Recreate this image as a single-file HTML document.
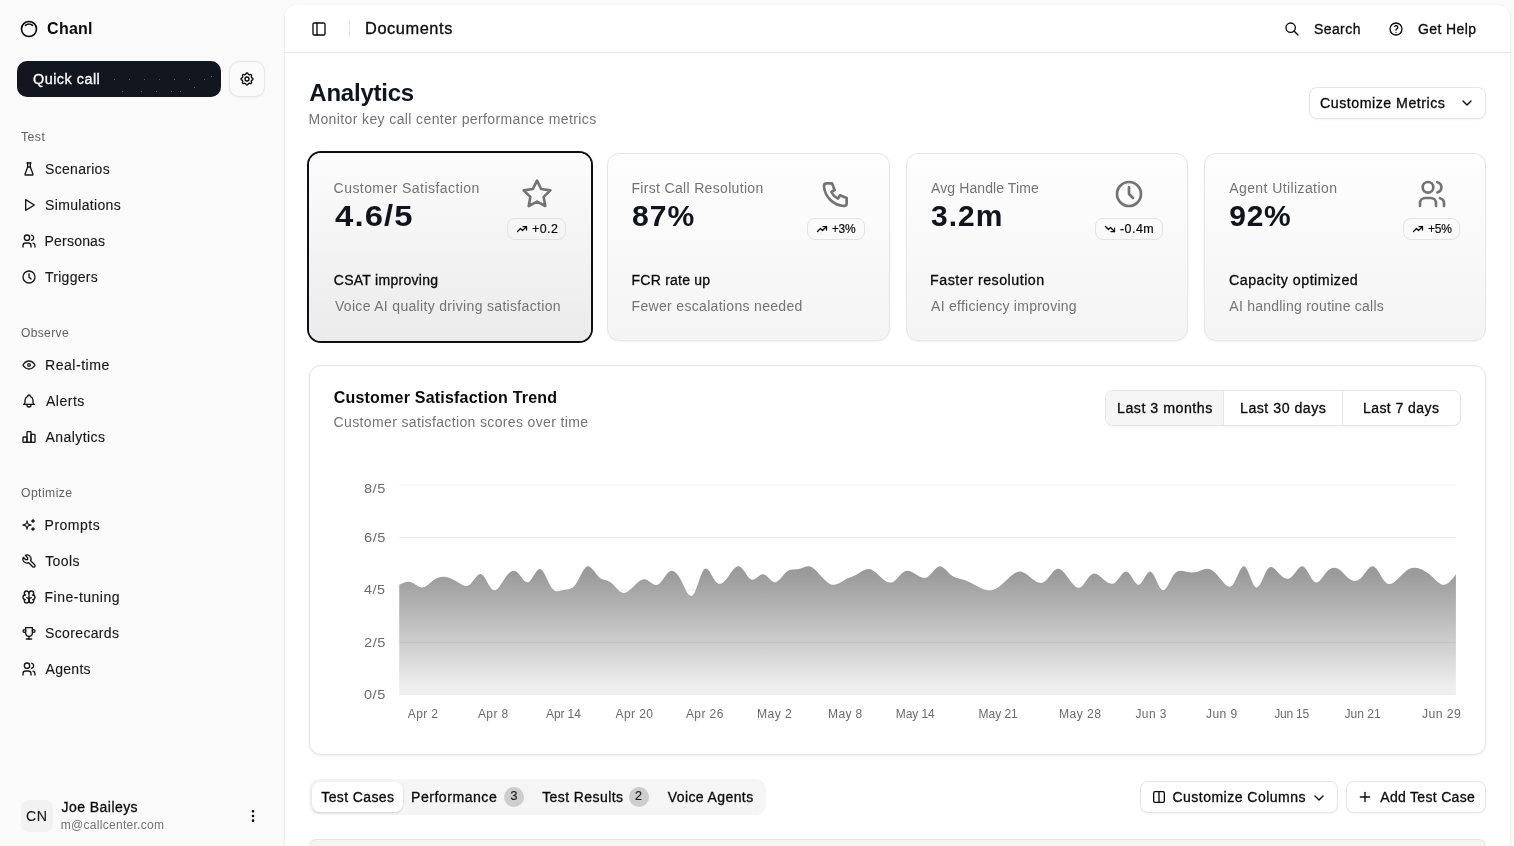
<!DOCTYPE html>
<html><head><meta charset="utf-8"><title>Analytics</title>
<style>
html,body{margin:0;padding:0}
html{width:1514px;height:846px;overflow:hidden;}
body{width:1514px;height:846px;overflow:hidden;background:#fafafa;position:relative;font-family:"Liberation Sans",sans-serif;}
.t{position:absolute;white-space:nowrap;line-height:1;transform-origin:0 0;}
.b{position:absolute;}
.tl{position:absolute;left:0;top:0;width:1514px;height:846px;will-change:transform;}
.i{position:absolute;overflow:visible;}
</style></head><body>
<div class="b" style="left:285px;top:5px;width:1225px;height:841px;background:#fff;border-radius:12px 12px 0 0;box-shadow:0 1px 3px rgba(0,0,0,.10),0 1px 2px -1px rgba(0,0,0,.10);"></div>
<div class="b" style="left:285px;top:52px;width:1225px;height:1px;background:#e8e8e8;"></div>
<div class="b" style="left:349px;top:21px;width:1px;height:16px;background:#e5e5e5;"></div>
<div class="b" style="left:17px;top:61px;width:204px;height:36px;background:#12161f;border-radius:10px;"></div>
<div class="b" style="left:229px;top:61px;width:36px;height:36px;background:#fafafa;border:1px solid #e6e6e6;border-radius:10px;box-sizing:border-box;box-shadow:0 1px 2px rgba(0,0,0,.05);"></div>
<div class="b" style="left:113.9px;top:78.6px;width:1px;height:1px;background:rgba(255,255,255,.32);"></div>
<div class="b" style="left:129px;top:78.6px;width:1px;height:1px;background:rgba(255,255,255,.32);"></div>
<div class="b" style="left:143.9px;top:78.6px;width:1px;height:1px;background:rgba(255,255,255,.32);"></div>
<div class="b" style="left:158.9px;top:78.6px;width:1px;height:1px;background:rgba(255,255,255,.32);"></div>
<div class="b" style="left:173.8px;top:78.6px;width:1px;height:1px;background:rgba(255,255,255,.32);"></div>
<div class="b" style="left:188.8px;top:78.6px;width:1px;height:1px;background:rgba(255,255,255,.32);"></div>
<div class="b" style="left:203.9px;top:78.6px;width:1px;height:1px;background:rgba(255,255,255,.32);"></div>
<div class="b" style="left:211.2px;top:75.9px;width:1px;height:1px;background:rgba(255,255,255,.32);"></div>
<div class="b" style="left:122.1px;top:91.3px;width:1px;height:1px;background:rgba(255,255,255,.32);"></div>
<div class="b" style="left:140.9px;top:91.3px;width:1px;height:1px;background:rgba(255,255,255,.32);"></div>
<div class="b" style="left:156px;top:91.3px;width:1px;height:1px;background:rgba(255,255,255,.32);"></div>
<div class="b" style="left:171px;top:91.3px;width:1px;height:1px;background:rgba(255,255,255,.32);"></div>
<div class="b" style="left:180.2px;top:91.3px;width:1px;height:1px;background:rgba(255,255,255,.32);"></div>
<div class="b" style="left:193.9px;top:86.9px;width:1px;height:1px;background:rgba(255,255,255,.32);"></div>
<div class="b" style="left:21px;top:800px;width:32px;height:32px;background:#f2f2f2;border-radius:8px;"></div>
<div class="b" style="left:1309px;top:87px;width:177px;height:32px;background:#fff;border:1px solid #e5e5e5;border-radius:8px;box-sizing:border-box;box-shadow:0 1px 2px rgba(0,0,0,.05);"></div>
<div class="b" style="left:309px;top:153px;width:282.25px;height:188px;background:linear-gradient(to bottom,#fcfcfc,#ebebeb);border-radius:12px;box-shadow:0 0 0 2px #0c0f16;"></div>
<div class="b" style="left:607.25px;top:153px;width:282.25px;height:188px;background:linear-gradient(to bottom,#fefefe,#f4f4f4);border:1px solid #e5e5e5;border-radius:12px;box-sizing:border-box;box-shadow:0 1px 2px rgba(0,0,0,.05);"></div>
<div class="b" style="left:905.5px;top:153px;width:282.25px;height:188px;background:linear-gradient(to bottom,#fefefe,#f4f4f4);border:1px solid #e5e5e5;border-radius:12px;box-sizing:border-box;box-shadow:0 1px 2px rgba(0,0,0,.05);"></div>
<div class="b" style="left:1203.75px;top:153px;width:282.25px;height:188px;background:linear-gradient(to bottom,#fefefe,#f4f4f4);border:1px solid #e5e5e5;border-radius:12px;box-sizing:border-box;box-shadow:0 1px 2px rgba(0,0,0,.05);"></div>
<div class="b" style="left:507.4px;top:218.4px;width:58.2px;height:21.3px;border:1px solid #e3e3e3;border-radius:8px;box-sizing:border-box;"></div>
<div class="b" style="left:807.3px;top:218.4px;width:57.4px;height:21.3px;border:1px solid #e3e3e3;border-radius:8px;box-sizing:border-box;"></div>
<div class="b" style="left:1095.3px;top:218.4px;width:67.6px;height:21.3px;border:1px solid #e3e3e3;border-radius:8px;box-sizing:border-box;"></div>
<div class="b" style="left:1403.1px;top:218.4px;width:57.3px;height:21.3px;border:1px solid #e3e3e3;border-radius:8px;box-sizing:border-box;"></div>
<div class="b" style="left:309px;top:365px;width:1177px;height:390px;background:#fff;border:1px solid #e5e5e5;border-radius:12px;box-sizing:border-box;box-shadow:0 1px 3px rgba(0,0,0,.07);"></div>
<div class="b" style="left:1105px;top:390px;width:356px;height:36px;background:#fff;border:1px solid #e5e5e5;border-radius:8px;box-sizing:border-box;box-shadow:0 1px 2px rgba(0,0,0,.04);overflow:hidden;"></div>
<div class="b" style="left:1106px;top:391px;width:117px;height:34px;background:#f5f5f5;border-radius:7px 0 0 7px;"></div>
<div class="b" style="left:1223px;top:391px;width:1px;height:34px;background:#e5e5e5;"></div>
<div class="b" style="left:1342px;top:391px;width:1px;height:34px;background:#e5e5e5;"></div>
<div class="b" style="left:309px;top:779px;width:457px;height:36px;background:#f5f5f5;border-radius:10px;"></div>
<div class="b" style="left:312px;top:782px;width:91px;height:30px;background:#fff;border-radius:8px;box-shadow:0 1px 3px rgba(0,0,0,.10),0 1px 2px rgba(0,0,0,.06);"></div>
<div class="b" style="left:504.3px;top:786.8px;width:20px;height:20px;background:#cdcdcd;border-radius:10px;"></div>
<div class="b" style="left:628.9px;top:786.8px;width:20px;height:20px;background:#cdcdcd;border-radius:10px;"></div>
<div class="b" style="left:1140px;top:781px;width:198px;height:32px;background:#fff;border:1px solid #e5e5e5;border-radius:8px;box-sizing:border-box;box-shadow:0 1px 2px rgba(0,0,0,.05);"></div>
<div class="b" style="left:1346px;top:781px;width:140px;height:32px;background:#fff;border:1px solid #e5e5e5;border-radius:8px;box-sizing:border-box;box-shadow:0 1px 2px rgba(0,0,0,.05);"></div>
<div class="b" style="left:309px;top:839px;width:1177px;height:7px;background:#f5f5f5;border:1px solid #e5e5e5;border-bottom:none;border-radius:8px 8px 0 0;box-sizing:border-box;"></div>
<svg class="i" style="left:0;top:0" width="1514" height="846" viewBox="0 0 1514 846">
<defs><linearGradient id="g" gradientUnits="userSpaceOnUse" x1="0" y1="566.42" x2="0" y2="694.90">
<stop offset="0.05" stop-color="#171717" stop-opacity="0.435"/><stop offset="0.95" stop-color="#171717" stop-opacity="0.07"/></linearGradient></defs>
<g stroke="#ececec" stroke-width="1" fill="none">
<path d="M399.2 485.2H1455.9" stroke="#f3f3f3"/><path d="M399.2 537.6H1455.9"/><path d="M399.2 590.1H1455.9"/></g>
<path d="M399.20,584.78C403.11,582.86,407.03,580.95,410.94,582.15C414.85,583.36,418.77,587.67,422.68,587.40C426.60,587.12,430.51,582.26,434.42,579.53C438.34,576.80,442.25,576.21,446.16,576.91C450.08,577.61,453.99,579.62,457.91,582.15C461.82,584.69,465.73,587.76,469.65,584.78C473.56,581.79,477.47,572.74,481.39,574.29C485.30,575.83,489.22,587.97,493.13,590.02C497.04,592.07,500.96,584.02,504.87,578.22C508.78,572.42,512.70,568.86,516.61,571.67C520.52,574.47,524.44,583.63,528.35,582.15C532.27,580.68,536.18,568.56,540.09,569.04C544.01,569.53,547.92,582.60,551.83,587.92C555.75,593.24,559.66,590.81,563.58,590.02C567.49,589.23,571.40,590.09,575.32,584.78C579.23,579.46,583.14,567.97,587.06,566.42C590.97,564.87,594.89,573.27,598.80,576.91C602.71,580.55,606.63,579.45,610.54,582.15C614.45,584.86,618.37,591.37,622.28,592.64C626.19,593.91,630.11,589.94,634.02,586.09C637.94,582.23,641.85,578.50,645.76,579.53C649.68,580.56,653.59,586.35,657.50,584.78C661.42,583.20,665.33,574.27,669.25,571.67C673.16,569.07,677.07,572.80,680.99,580.32C684.90,587.83,688.81,599.12,692.73,595.26C696.64,591.40,700.56,572.39,704.47,569.04C708.38,565.69,712.30,578.01,716.21,582.15C720.12,586.30,724.04,582.29,727.95,576.91C731.86,571.53,735.78,564.80,739.69,566.42C743.61,568.05,747.52,578.04,751.43,579.53C755.35,581.02,759.26,574.02,763.17,574.29C767.09,574.56,771.00,582.11,774.92,582.15C778.83,582.20,782.74,574.75,786.66,571.67C790.57,568.58,794.48,569.86,798.40,569.04C802.31,568.23,806.23,565.32,810.14,566.42C814.05,567.52,817.97,572.62,821.88,576.91C825.79,581.20,829.71,584.67,833.62,584.78C837.53,584.89,841.45,581.64,845.36,579.53C849.28,577.42,853.19,576.46,857.10,574.29C861.02,572.12,864.93,568.75,868.84,569.04C872.76,569.34,876.67,573.29,880.59,576.91C884.50,580.53,888.41,583.83,892.33,582.15C896.24,580.48,900.15,573.83,904.07,571.67C907.98,569.50,911.90,571.83,915.81,574.29C919.72,576.74,923.64,579.33,927.55,576.91C931.46,574.49,935.38,567.07,939.29,566.42C943.20,565.78,947.12,571.91,951.03,575.07C954.95,578.24,958.86,578.44,962.77,579.53C966.69,580.63,970.60,582.62,974.51,584.78C978.43,586.93,982.34,589.25,986.26,590.02C990.17,590.79,994.08,590.00,998.00,587.40C1001.91,584.80,1005.82,580.39,1009.74,576.91C1013.65,573.43,1017.57,570.89,1021.48,571.67C1025.39,572.44,1029.31,576.54,1033.22,579.53C1037.13,582.52,1041.05,584.39,1044.96,581.37C1048.87,578.34,1052.79,570.42,1056.70,569.04C1060.62,567.67,1064.53,572.86,1068.44,578.22C1072.36,583.58,1076.27,589.13,1080.18,587.40C1084.10,585.67,1088.01,576.66,1091.93,574.29C1095.84,571.91,1099.75,576.17,1103.67,579.53C1107.58,582.90,1111.49,585.37,1115.41,582.15C1119.32,578.94,1123.24,570.04,1127.15,571.67C1131.06,573.29,1134.98,585.45,1138.89,584.78C1142.80,584.11,1146.72,570.61,1150.63,571.67C1154.54,572.72,1158.46,588.31,1162.37,590.02C1166.29,591.73,1170.20,579.54,1174.11,574.29C1178.03,569.04,1181.94,570.72,1185.85,571.67C1189.77,572.61,1193.68,572.81,1197.60,571.67C1201.51,570.52,1205.42,568.01,1209.34,569.04C1213.25,570.07,1217.16,574.63,1221.08,579.53C1224.99,584.43,1228.91,589.67,1232.82,584.78C1236.73,579.89,1240.65,564.87,1244.56,566.42C1248.47,567.98,1252.39,586.11,1256.30,587.40C1260.21,588.69,1264.13,573.15,1268.04,568.52C1271.96,563.89,1275.87,570.18,1279.78,574.29C1283.70,578.39,1287.61,580.32,1291.52,576.91C1295.44,573.50,1299.35,564.76,1303.27,566.42C1307.18,568.09,1311.09,580.16,1315.01,582.15C1318.92,584.15,1322.83,576.06,1326.75,571.67C1330.66,567.27,1334.58,566.58,1338.49,569.04C1342.40,571.51,1346.32,577.12,1350.23,579.53C1354.14,581.94,1358.06,581.14,1361.97,576.91C1365.88,572.68,1369.80,565.02,1373.71,566.42C1377.63,567.83,1381.54,578.30,1385.45,582.15C1389.37,586.01,1393.28,583.25,1397.19,579.53C1401.11,575.81,1405.02,571.13,1408.94,569.04C1412.85,566.96,1416.76,567.46,1420.68,569.04C1424.59,570.63,1428.50,573.30,1432.42,576.91C1436.33,580.52,1440.25,585.06,1444.16,584.78C1448.07,584.49,1451.99,579.39,1455.90,574.29L1455.90,694.90 L399.20,694.90 Z" fill="#fff"/>
<path d="M399.20,584.78C403.11,582.86,407.03,580.95,410.94,582.15C414.85,583.36,418.77,587.67,422.68,587.40C426.60,587.12,430.51,582.26,434.42,579.53C438.34,576.80,442.25,576.21,446.16,576.91C450.08,577.61,453.99,579.62,457.91,582.15C461.82,584.69,465.73,587.76,469.65,584.78C473.56,581.79,477.47,572.74,481.39,574.29C485.30,575.83,489.22,587.97,493.13,590.02C497.04,592.07,500.96,584.02,504.87,578.22C508.78,572.42,512.70,568.86,516.61,571.67C520.52,574.47,524.44,583.63,528.35,582.15C532.27,580.68,536.18,568.56,540.09,569.04C544.01,569.53,547.92,582.60,551.83,587.92C555.75,593.24,559.66,590.81,563.58,590.02C567.49,589.23,571.40,590.09,575.32,584.78C579.23,579.46,583.14,567.97,587.06,566.42C590.97,564.87,594.89,573.27,598.80,576.91C602.71,580.55,606.63,579.45,610.54,582.15C614.45,584.86,618.37,591.37,622.28,592.64C626.19,593.91,630.11,589.94,634.02,586.09C637.94,582.23,641.85,578.50,645.76,579.53C649.68,580.56,653.59,586.35,657.50,584.78C661.42,583.20,665.33,574.27,669.25,571.67C673.16,569.07,677.07,572.80,680.99,580.32C684.90,587.83,688.81,599.12,692.73,595.26C696.64,591.40,700.56,572.39,704.47,569.04C708.38,565.69,712.30,578.01,716.21,582.15C720.12,586.30,724.04,582.29,727.95,576.91C731.86,571.53,735.78,564.80,739.69,566.42C743.61,568.05,747.52,578.04,751.43,579.53C755.35,581.02,759.26,574.02,763.17,574.29C767.09,574.56,771.00,582.11,774.92,582.15C778.83,582.20,782.74,574.75,786.66,571.67C790.57,568.58,794.48,569.86,798.40,569.04C802.31,568.23,806.23,565.32,810.14,566.42C814.05,567.52,817.97,572.62,821.88,576.91C825.79,581.20,829.71,584.67,833.62,584.78C837.53,584.89,841.45,581.64,845.36,579.53C849.28,577.42,853.19,576.46,857.10,574.29C861.02,572.12,864.93,568.75,868.84,569.04C872.76,569.34,876.67,573.29,880.59,576.91C884.50,580.53,888.41,583.83,892.33,582.15C896.24,580.48,900.15,573.83,904.07,571.67C907.98,569.50,911.90,571.83,915.81,574.29C919.72,576.74,923.64,579.33,927.55,576.91C931.46,574.49,935.38,567.07,939.29,566.42C943.20,565.78,947.12,571.91,951.03,575.07C954.95,578.24,958.86,578.44,962.77,579.53C966.69,580.63,970.60,582.62,974.51,584.78C978.43,586.93,982.34,589.25,986.26,590.02C990.17,590.79,994.08,590.00,998.00,587.40C1001.91,584.80,1005.82,580.39,1009.74,576.91C1013.65,573.43,1017.57,570.89,1021.48,571.67C1025.39,572.44,1029.31,576.54,1033.22,579.53C1037.13,582.52,1041.05,584.39,1044.96,581.37C1048.87,578.34,1052.79,570.42,1056.70,569.04C1060.62,567.67,1064.53,572.86,1068.44,578.22C1072.36,583.58,1076.27,589.13,1080.18,587.40C1084.10,585.67,1088.01,576.66,1091.93,574.29C1095.84,571.91,1099.75,576.17,1103.67,579.53C1107.58,582.90,1111.49,585.37,1115.41,582.15C1119.32,578.94,1123.24,570.04,1127.15,571.67C1131.06,573.29,1134.98,585.45,1138.89,584.78C1142.80,584.11,1146.72,570.61,1150.63,571.67C1154.54,572.72,1158.46,588.31,1162.37,590.02C1166.29,591.73,1170.20,579.54,1174.11,574.29C1178.03,569.04,1181.94,570.72,1185.85,571.67C1189.77,572.61,1193.68,572.81,1197.60,571.67C1201.51,570.52,1205.42,568.01,1209.34,569.04C1213.25,570.07,1217.16,574.63,1221.08,579.53C1224.99,584.43,1228.91,589.67,1232.82,584.78C1236.73,579.89,1240.65,564.87,1244.56,566.42C1248.47,567.98,1252.39,586.11,1256.30,587.40C1260.21,588.69,1264.13,573.15,1268.04,568.52C1271.96,563.89,1275.87,570.18,1279.78,574.29C1283.70,578.39,1287.61,580.32,1291.52,576.91C1295.44,573.50,1299.35,564.76,1303.27,566.42C1307.18,568.09,1311.09,580.16,1315.01,582.15C1318.92,584.15,1322.83,576.06,1326.75,571.67C1330.66,567.27,1334.58,566.58,1338.49,569.04C1342.40,571.51,1346.32,577.12,1350.23,579.53C1354.14,581.94,1358.06,581.14,1361.97,576.91C1365.88,572.68,1369.80,565.02,1373.71,566.42C1377.63,567.83,1381.54,578.30,1385.45,582.15C1389.37,586.01,1393.28,583.25,1397.19,579.53C1401.11,575.81,1405.02,571.13,1408.94,569.04C1412.85,566.96,1416.76,567.46,1420.68,569.04C1424.59,570.63,1428.50,573.30,1432.42,576.91C1436.33,580.52,1440.25,585.06,1444.16,584.78C1448.07,584.49,1451.99,579.39,1455.90,574.29L1455.90,694.90 L399.20,694.90 Z" fill="url(#g)"/>
<path d="M399.2 642.5H1455.9" stroke="#000" stroke-opacity="0.04" stroke-width="1" fill="none"/>
</svg>
<svg class="i" style="left:19.00px;top:18.80px" width="20" height="20" viewBox="0 0 24 24" fill="none" stroke="#0a0a0a" stroke-width="2" stroke-linecap="round" stroke-linejoin="round"><path d="M5.636 5.636a9 9 0 1 0 12.728 12.728a9 9 0 0 0 -12.728 -12.728z"/><path d="M16.243 7.757a6 6 0 0 0 -8.486 0"/></svg>
<svg class="i" style="left:239.00px;top:71.00px" width="16" height="16" viewBox="0 0 24 24" fill="none" stroke="#0a0a0a" stroke-width="2" stroke-linecap="round" stroke-linejoin="round"><path d="M10.325 4.317c.426 -1.756 2.924 -1.756 3.35 0a1.724 1.724 0 0 0 2.573 1.066c1.543 -.94 3.31 .826 2.37 2.37a1.724 1.724 0 0 0 1.065 2.572c1.756 .426 1.756 2.924 0 3.35a1.724 1.724 0 0 0 -1.066 2.573c.94 1.543 -.826 3.31 -2.37 2.37a1.724 1.724 0 0 0 -2.572 1.065c-.426 1.756 -2.924 1.756 -3.35 0a1.724 1.724 0 0 0 -2.573 -1.066c-1.543 .94 -3.31 -.826 -2.37 -2.37a1.724 1.724 0 0 0 -1.065 -2.572c-1.756 -.426 -1.756 -2.924 0 -3.35a1.724 1.724 0 0 0 1.066 -2.573c-.94 -1.543 .826 -3.31 2.37 -2.37c1 .608 2.296 .07 2.572 -1.065z"/><path d="M9 12a3 3 0 1 0 6 0a3 3 0 0 0 -6 0"/></svg>
<svg class="i" style="left:21.00px;top:161.00px" width="16" height="16" viewBox="0 0 24 24" fill="none" stroke="#161616" stroke-width="2" stroke-linecap="round" stroke-linejoin="round"><path d="M9 3l6 0"/><path d="M10 9l4 0"/><path d="M10 3v6l-4 11a.7 .7 0 0 0 .5 1h11a.7 .7 0 0 0 .5 -1l-4 -11v-6"/></svg>
<svg class="i" style="left:21.00px;top:197.00px" width="16" height="16" viewBox="0 0 24 24" fill="none" stroke="#161616" stroke-width="2" stroke-linecap="round" stroke-linejoin="round"><path d="M7 4v16l13 -8z"/></svg>
<svg class="i" style="left:21.00px;top:233.00px" width="16" height="16" viewBox="0 0 24 24" fill="none" stroke="#161616" stroke-width="2" stroke-linecap="round" stroke-linejoin="round"><path d="M9 7m-4 0a4 4 0 1 0 8 0a4 4 0 1 0 -8 0"/><path d="M3 21v-2a4 4 0 0 1 4 -4h4a4 4 0 0 1 4 4v2"/><path d="M16 3.13a4 4 0 0 1 0 7.75"/><path d="M21 21v-2a4 4 0 0 0 -3 -3.85"/></svg>
<svg class="i" style="left:21.00px;top:269.00px" width="16" height="16" viewBox="0 0 24 24" fill="none" stroke="#161616" stroke-width="2" stroke-linecap="round" stroke-linejoin="round"><path d="M3 12a9 9 0 1 0 18 0a9 9 0 0 0 -18 0"/><path d="M12 7v5l3 3"/></svg>
<svg class="i" style="left:21.00px;top:357.00px" width="16" height="16" viewBox="0 0 24 24" fill="none" stroke="#161616" stroke-width="2" stroke-linecap="round" stroke-linejoin="round"><path d="M10 12a2 2 0 1 0 4 0a2 2 0 0 0 -4 0"/><path d="M21 12c-2.4 4 -5.4 6 -9 6c-3.6 0 -6.6 -2 -9 -6c2.4 -4 5.4 -6 9 -6c3.6 0 6.6 2 9 6"/></svg>
<svg class="i" style="left:21.00px;top:393.00px" width="16" height="16" viewBox="0 0 24 24" fill="none" stroke="#161616" stroke-width="2" stroke-linecap="round" stroke-linejoin="round"><path d="M10 5a2 2 0 1 1 4 0a7 7 0 0 1 4 6v3a4 4 0 0 0 2 3h-16a4 4 0 0 0 2 -3v-3a7 7 0 0 1 4 -6"/><path d="M9 17v1a3 3 0 0 0 6 0v-1"/></svg>
<svg class="i" style="left:21.00px;top:429.00px" width="16" height="16" viewBox="0 0 24 24" fill="none" stroke="#161616" stroke-width="2" stroke-linecap="round" stroke-linejoin="round"><path d="M3 13a1 1 0 0 1 1 -1h4a1 1 0 0 1 1 1v6a1 1 0 0 1 -1 1h-4a1 1 0 0 1 -1 -1z"/><path d="M15 9a1 1 0 0 1 1 -1h4a1 1 0 0 1 1 1v10a1 1 0 0 1 -1 1h-4a1 1 0 0 1 -1 -1z"/><path d="M9 5a1 1 0 0 1 1 -1h4a1 1 0 0 1 1 1v14a1 1 0 0 1 -1 1h-4a1 1 0 0 1 -1 -1z"/><path d="M4 20h14"/></svg>
<svg class="i" style="left:21.00px;top:517.00px" width="16" height="16" viewBox="0 0 24 24" fill="none" stroke="#161616" stroke-width="2" stroke-linecap="round" stroke-linejoin="round"><path d="M16 18a2 2 0 0 1 2 2a2 2 0 0 1 2 -2a2 2 0 0 1 -2 -2a2 2 0 0 1 -2 2zm0 -12a2 2 0 0 1 2 2a2 2 0 0 1 2 -2a2 2 0 0 1 -2 -2a2 2 0 0 1 -2 2zm-7 12a6 6 0 0 1 6 -6a6 6 0 0 1 -6 -6a6 6 0 0 1 -6 6a6 6 0 0 1 6 6z"/></svg>
<svg class="i" style="left:21.00px;top:553.00px" width="16" height="16" viewBox="0 0 24 24" fill="none" stroke="#161616" stroke-width="2" stroke-linecap="round" stroke-linejoin="round"><path d="M7 10h3v-3l-3.5 -3.5a6 6 0 0 1 8 8l6 6a2 2 0 0 1 -3 3l-6 -6a6 6 0 0 1 -8 -8l3.5 3.5"/></svg>
<svg class="i" style="left:21.00px;top:589.00px" width="16" height="16" viewBox="0 0 24 24" fill="none" stroke="#161616" stroke-width="2" stroke-linecap="round" stroke-linejoin="round"><path d="M15.5 13a3.5 3.5 0 0 0 -3.5 3.5v1a3.5 3.5 0 0 0 7 0v-1.8"/><path d="M8.5 13a3.5 3.5 0 0 1 3.5 3.5v1a3.5 3.5 0 0 1 -7 0v-1.8"/><path d="M17.5 16a3.5 3.5 0 0 0 0 -7h-.5"/><path d="M19 9.3v-2.800a3.5 3.5 0 0 0 -7 0"/><path d="M6.5 16a3.5 3.5 0 0 1 0 -7h.5"/><path d="M5 9.3v-2.800a3.5 3.5 0 0 1 7 0v10"/></svg>
<svg class="i" style="left:21.00px;top:625.00px" width="16" height="16" viewBox="0 0 24 24" fill="none" stroke="#161616" stroke-width="2" stroke-linecap="round" stroke-linejoin="round"><path d="M8 21l8 0"/><path d="M12 17l0 4"/><path d="M7 4l10 0"/><path d="M17 4v8a5 5 0 0 1 -10 0v-8"/><path d="M5 9m-2 0a2 2 0 1 0 4 0a2 2 0 1 0 -4 0"/><path d="M19 9m-2 0a2 2 0 1 0 4 0a2 2 0 1 0 -4 0"/></svg>
<svg class="i" style="left:21.00px;top:661.00px" width="16" height="16" viewBox="0 0 24 24" fill="none" stroke="#161616" stroke-width="2" stroke-linecap="round" stroke-linejoin="round"><path d="M9 7m-4 0a4 4 0 1 0 8 0a4 4 0 1 0 -8 0"/><path d="M3 21v-2a4 4 0 0 1 4 -4h4a4 4 0 0 1 4 4v2"/><path d="M16 3.13a4 4 0 0 1 0 7.75"/><path d="M21 21v-2a4 4 0 0 0 -3 -3.85"/></svg>
<svg class="i" style="left:245.00px;top:808.00px" width="16" height="16" viewBox="0 0 24 24" fill="none" stroke="#0a0a0a" stroke-width="2" stroke-linecap="round" stroke-linejoin="round"><path d="M12 12m-1 0a1 1 0 1 0 2 0a1 1 0 1 0 -2 0"/><path d="M12 19m-1 0a1 1 0 1 0 2 0a1 1 0 1 0 -2 0"/><path d="M12 5m-1 0a1 1 0 1 0 2 0a1 1 0 1 0 -2 0"/></svg>
<svg class="i" style="left:311.00px;top:21.00px" width="16" height="16" viewBox="0 0 24 24" fill="none" stroke="#0a0a0a" stroke-width="2" stroke-linecap="round" stroke-linejoin="round"><rect width="18" height="18" x="3" y="3" rx="2"/><path d="M9 3v18"/></svg>
<svg class="i" style="left:1284.00px;top:20.80px" width="16" height="16" viewBox="0 0 24 24" fill="none" stroke="#0a0a0a" stroke-width="2" stroke-linecap="round" stroke-linejoin="round"><path d="M10 10m-7 0a7 7 0 1 0 14 0a7 7 0 1 0 -14 0"/><path d="M21 21l-6 -6"/></svg>
<svg class="i" style="left:1388.00px;top:21.00px" width="16" height="16" viewBox="0 0 24 24" fill="none" stroke="#0a0a0a" stroke-width="2" stroke-linecap="round" stroke-linejoin="round"><path d="M12 12m-9 0a9 9 0 1 0 18 0a9 9 0 1 0 -18 0"/><path d="M12 17l0 .01"/><path d="M12 13.5a1.5 1.5 0 0 1 1 -1.5a2.6 2.6 0 1 0 -3 -4"/></svg>
<svg class="i" style="left:1459.00px;top:95.00px" width="16" height="16" viewBox="0 0 24 24" fill="none" stroke="#0a0a0a" stroke-width="2" stroke-linecap="round" stroke-linejoin="round"><path d="M6 9l6 6l6 -6"/></svg>
<svg class="i" style="left:521.00px;top:178.00px" width="32" height="32" viewBox="0 0 24 24" fill="none" stroke="#737373" stroke-width="2" stroke-linecap="round" stroke-linejoin="round"><polygon points="12 2 15.09 8.26 22 9.27 17 14.14 18.18 21.02 12 17.77 5.82 21.02 7 14.14 2 9.27 8.91 8.26 12 2"/></svg>
<svg class="i" style="left:819.60px;top:178.40px" width="32" height="32" viewBox="0 0 24 24" fill="none" stroke="#737373" stroke-width="2" stroke-linecap="round" stroke-linejoin="round"><path d="M5 4h4l2 5l-2.5 1.5a11 11 0 0 0 5 5l1.5 -2.5l5 2v4a2 2 0 0 1 -2 2a16 16 0 0 1 -15 -15a2 2 0 0 1 2 -2"/></svg>
<svg class="i" style="left:1112.80px;top:178.00px" width="32" height="32" viewBox="0 0 24 24" fill="none" stroke="#737373" stroke-width="2" stroke-linecap="round" stroke-linejoin="round"><path d="M3 12a9 9 0 1 0 18 0a9 9 0 0 0 -18 0"/><path d="M12 7v5l3 3"/></svg>
<svg class="i" style="left:1416.00px;top:178.00px" width="32" height="32" viewBox="0 0 24 24" fill="none" stroke="#737373" stroke-width="2" stroke-linecap="round" stroke-linejoin="round"><path d="M9 7m-4 0a4 4 0 1 0 8 0a4 4 0 1 0 -8 0"/><path d="M3 21v-2a4 4 0 0 1 4 -4h4a4 4 0 0 1 4 4v2"/><path d="M16 3.13a4 4 0 0 1 0 7.75"/><path d="M21 21v-2a4 4 0 0 0 -3 -3.85"/></svg>
<svg class="i" style="left:516.30px;top:223.30px" width="12" height="12" viewBox="0 0 24 24" fill="none" stroke="#0a0a0a" stroke-width="2.5" stroke-linecap="round" stroke-linejoin="round"><path d="M3 17l6 -6l4 4l8 -8"/><path d="M14 7l7 0l0 7"/></svg>
<svg class="i" style="left:816.00px;top:223.30px" width="12" height="12" viewBox="0 0 24 24" fill="none" stroke="#0a0a0a" stroke-width="2.5" stroke-linecap="round" stroke-linejoin="round"><path d="M3 17l6 -6l4 4l8 -8"/><path d="M14 7l7 0l0 7"/></svg>
<svg class="i" style="left:1103.80px;top:223.30px" width="12" height="12" viewBox="0 0 24 24" fill="none" stroke="#0a0a0a" stroke-width="2.5" stroke-linecap="round" stroke-linejoin="round"><path d="M3 7l6 6l4 -4l8 8"/><path d="M21 10l0 7l-7 0"/></svg>
<svg class="i" style="left:1412.00px;top:223.30px" width="12" height="12" viewBox="0 0 24 24" fill="none" stroke="#0a0a0a" stroke-width="2.5" stroke-linecap="round" stroke-linejoin="round"><path d="M3 17l6 -6l4 4l8 -8"/><path d="M14 7l7 0l0 7"/></svg>
<svg class="i" style="left:1151.00px;top:789.20px" width="16" height="16" viewBox="0 0 24 24" fill="none" stroke="#0a0a0a" stroke-width="2" stroke-linecap="round" stroke-linejoin="round"><path d="M4 4m0 2a2 2 0 0 1 2 -2h12a2 2 0 0 1 2 2v12a2 2 0 0 1 -2 2h-12a2 2 0 0 1 -2 -2z"/><path d="M12 4l0 16"/></svg>
<svg class="i" style="left:1311.20px;top:789.50px" width="16" height="16" viewBox="0 0 24 24" fill="none" stroke="#0a0a0a" stroke-width="2" stroke-linecap="round" stroke-linejoin="round"><path d="M6 9l6 6l6 -6"/></svg>
<svg class="i" style="left:1357.00px;top:789.20px" width="16" height="16" viewBox="0 0 24 24" fill="none" stroke="#0a0a0a" stroke-width="2" stroke-linecap="round" stroke-linejoin="round"><path d="M12 5l0 14"/><path d="M5 12l14 0"/></svg>
<div class="tl">
<span class="t" style="left:47.08px;top:20.76px;font-size:16px;color:#0a0a0a;letter-spacing:0.253px;font-weight:700;">Chanl</span>
<span class="t" style="left:32.76px;top:71.75px;font-size:14px;color:#ffffff;letter-spacing:0.490px;transform:scaleX(1.0260);-webkit-text-stroke:0.30px #ffffff;">Quick call</span>
<span class="t" style="left:21.24px;top:130.84px;font-size:12px;color:#5f5f5f;letter-spacing:0.420px;transform:scaleX(1.0247);">Test</span>
<span class="t" style="left:45.08px;top:162.25px;font-size:14px;color:#161616;letter-spacing:0.296px;-webkit-text-stroke:0.12px #161616;">Scenarios</span>
<span class="t" style="left:45.08px;top:198.15px;font-size:14px;color:#161616;letter-spacing:0.326px;-webkit-text-stroke:0.12px #161616;">Simulations</span>
<span class="t" style="left:44.58px;top:233.95px;font-size:14px;color:#161616;letter-spacing:0.197px;-webkit-text-stroke:0.12px #161616;">Personas</span>
<span class="t" style="left:44.99px;top:269.95px;font-size:14px;color:#161616;letter-spacing:0.270px;-webkit-text-stroke:0.12px #161616;">Triggers</span>
<span class="t" style="left:20.94px;top:326.84px;font-size:12px;color:#5f5f5f;letter-spacing:0.383px;">Observe</span>
<span class="t" style="left:44.57px;top:357.95px;font-size:14px;color:#161616;letter-spacing:0.490px;transform:scaleX(1.0081);-webkit-text-stroke:0.12px #161616;">Real-time</span>
<span class="t" style="left:45.50px;top:393.95px;font-size:14px;color:#161616;letter-spacing:0.490px;transform:scaleX(1.0043);-webkit-text-stroke:0.12px #161616;">Alerts</span>
<span class="t" style="left:45.50px;top:429.85px;font-size:14px;color:#161616;letter-spacing:0.422px;-webkit-text-stroke:0.12px #161616;">Analytics</span>
<span class="t" style="left:20.93px;top:486.84px;font-size:12px;color:#5f5f5f;letter-spacing:0.420px;transform:scaleX(1.0155);">Optimize</span>
<span class="t" style="left:44.57px;top:517.95px;font-size:14px;color:#161616;letter-spacing:0.490px;-webkit-text-stroke:0.12px #161616;">Prompts</span>
<span class="t" style="left:45.19px;top:553.95px;font-size:14px;color:#161616;letter-spacing:0.407px;-webkit-text-stroke:0.12px #161616;">Tools</span>
<span class="t" style="left:44.58px;top:589.85px;font-size:14px;color:#161616;letter-spacing:0.483px;-webkit-text-stroke:0.12px #161616;">Fine-tuning</span>
<span class="t" style="left:45.08px;top:626.15px;font-size:14px;color:#161616;letter-spacing:0.346px;-webkit-text-stroke:0.12px #161616;">Scorecards</span>
<span class="t" style="left:45.50px;top:661.95px;font-size:14px;color:#161616;letter-spacing:0.303px;-webkit-text-stroke:0.12px #161616;">Agents</span>
<span class="t" style="left:26.40px;top:808.85px;font-size:14px;color:#161616;letter-spacing:0.490px;transform:scaleX(1.0152);-webkit-text-stroke:0.12px #161616;">CN</span>
<span class="t" style="left:61.61px;top:800.15px;font-size:14px;color:#0a0a0a;letter-spacing:0.439px;-webkit-text-stroke:0.30px #0a0a0a;">Joe Baileys</span>
<span class="t" style="left:60.85px;top:819.24px;font-size:12px;color:#737373;letter-spacing:0.281px;">m@callcenter.com</span>
<span class="t" style="left:365.26px;top:20.86px;font-size:16px;color:#0a0a0a;letter-spacing:0.560px;transform:scaleX(1.0224);-webkit-text-stroke:0.30px #0a0a0a;">Documents</span>
<span class="t" style="left:1313.88px;top:22.05px;font-size:14px;color:#0a0a0a;letter-spacing:0.443px;-webkit-text-stroke:0.30px #0a0a0a;">Search</span>
<span class="t" style="left:1418.01px;top:22.05px;font-size:14px;color:#0a0a0a;letter-spacing:0.397px;-webkit-text-stroke:0.30px #0a0a0a;">Get Help</span>
<span class="t" style="left:309.32px;top:80.68px;font-size:24px;color:#10141d;letter-spacing:-0.233px;font-weight:700;">Analytics</span>
<span class="t" style="left:308.38px;top:112.15px;font-size:14px;color:#737373;letter-spacing:0.388px;">Monitor key call center performance metrics</span>
<span class="t" style="left:1319.90px;top:95.65px;font-size:14px;color:#0a0a0a;letter-spacing:0.490px;transform:scaleX(1.0157);-webkit-text-stroke:0.30px #0a0a0a;">Customize Metrics</span>
<span class="t" style="left:333.61px;top:181.35px;font-size:14px;color:#737373;letter-spacing:0.435px;">Customer Satisfaction</span>
<span class="t" style="left:334.90px;top:200.60px;font-size:30px;color:#10141d;letter-spacing:1.050px;transform:scaleX(1.0944);font-weight:700;">4.6/5</span>
<span class="t" style="left:531.82px;top:222.64px;font-size:12px;color:#0a0a0a;letter-spacing:0.420px;transform:scaleX(1.0362);-webkit-text-stroke:0.18px #0a0a0a;">+0.2</span>
<span class="t" style="left:333.81px;top:273.15px;font-size:14px;color:#0a0a0a;letter-spacing:0.274px;-webkit-text-stroke:0.30px #0a0a0a;">CSAT improving</span>
<span class="t" style="left:334.90px;top:298.85px;font-size:14px;color:#737373;letter-spacing:0.324px;">Voice AI quality driving satisfaction</span>
<span class="t" style="left:631.48px;top:181.35px;font-size:14px;color:#737373;letter-spacing:0.326px;">First Call Resolution</span>
<span class="t" style="left:631.66px;top:200.60px;font-size:30px;color:#10141d;letter-spacing:1.050px;transform:scaleX(1.0036);font-weight:700;">87%</span>
<span class="t" style="left:831.74px;top:222.64px;font-size:12px;color:#0a0a0a;letter-spacing:-0.235px;-webkit-text-stroke:0.18px #0a0a0a;">+3%</span>
<span class="t" style="left:631.58px;top:273.15px;font-size:14px;color:#0a0a0a;letter-spacing:0.231px;-webkit-text-stroke:0.30px #0a0a0a;">FCR rate up</span>
<span class="t" style="left:631.58px;top:298.85px;font-size:14px;color:#737373;letter-spacing:0.319px;">Fewer escalations needed</span>
<span class="t" style="left:931.10px;top:181.35px;font-size:14px;color:#737373;letter-spacing:0.092px;">Avg Handle Time</span>
<span class="t" style="left:931.03px;top:200.60px;font-size:30px;color:#10141d;letter-spacing:0.974px;font-weight:700;">3.2m</span>
<span class="t" style="left:1119.58px;top:222.64px;font-size:12px;color:#0a0a0a;letter-spacing:0.420px;transform:scaleX(1.0415);-webkit-text-stroke:0.18px #0a0a0a;">-0.4m</span>
<span class="t" style="left:929.95px;top:273.15px;font-size:14px;color:#0a0a0a;letter-spacing:0.490px;transform:scaleX(1.0188);-webkit-text-stroke:0.30px #0a0a0a;">Faster resolution</span>
<span class="t" style="left:931.10px;top:298.85px;font-size:14px;color:#737373;letter-spacing:0.261px;">AI efficiency improving</span>
<span class="t" style="left:1229.20px;top:181.35px;font-size:14px;color:#737373;letter-spacing:0.411px;">Agent Utilization</span>
<span class="t" style="left:1229.26px;top:200.60px;font-size:30px;color:#10141d;letter-spacing:0.709px;font-weight:700;">92%</span>
<span class="t" style="left:1428.04px;top:222.64px;font-size:12px;color:#0a0a0a;letter-spacing:-0.185px;-webkit-text-stroke:0.18px #0a0a0a;">+5%</span>
<span class="t" style="left:1228.60px;top:273.15px;font-size:14px;color:#0a0a0a;letter-spacing:0.490px;transform:scaleX(1.0170);-webkit-text-stroke:0.30px #0a0a0a;">Capacity optimized</span>
<span class="t" style="left:1229.30px;top:298.85px;font-size:14px;color:#737373;letter-spacing:0.244px;">AI handling routine calls</span>
<span class="t" style="left:333.68px;top:389.76px;font-size:16px;color:#0a0a0a;letter-spacing:0.216px;font-weight:700;">Customer Satisfaction Trend</span>
<span class="t" style="left:333.61px;top:415.15px;font-size:14px;color:#737373;letter-spacing:0.357px;">Customer satisfaction scores over time</span>
<span class="t" style="left:1116.96px;top:401.25px;font-size:14px;color:#0a0a0a;letter-spacing:0.490px;transform:scaleX(1.0153);-webkit-text-stroke:0.30px #0a0a0a;">Last 3 months</span>
<span class="t" style="left:1239.96px;top:401.25px;font-size:14px;color:#0a0a0a;letter-spacing:0.490px;transform:scaleX(1.0138);-webkit-text-stroke:0.30px #0a0a0a;">Last 30 days</span>
<span class="t" style="left:1362.97px;top:401.25px;font-size:14px;color:#0a0a0a;letter-spacing:0.433px;-webkit-text-stroke:0.30px #0a0a0a;">Last 7 days</span>
<span class="t" style="left:363.99px;top:482.84px;font-size:12px;color:#6b6b6b;letter-spacing:0.420px;transform:scaleX(1.2156);">8/5</span>
<span class="t" style="left:363.91px;top:531.84px;font-size:12px;color:#6b6b6b;letter-spacing:0.420px;transform:scaleX(1.2202);">6/5</span>
<span class="t" style="left:364.30px;top:583.74px;font-size:12px;color:#6b6b6b;letter-spacing:0.420px;transform:scaleX(1.1975);">4/5</span>
<span class="t" style="left:363.91px;top:636.64px;font-size:12px;color:#6b6b6b;letter-spacing:0.420px;transform:scaleX(1.2202);">2/5</span>
<span class="t" style="left:364.07px;top:688.84px;font-size:12px;color:#6b6b6b;letter-spacing:0.420px;transform:scaleX(1.2110);">0/5</span>
<span class="t" style="left:407.85px;top:707.84px;font-size:12px;color:#6b6b6b;letter-spacing:0.342px;">Apr 2</span>
<span class="t" style="left:478.00px;top:707.84px;font-size:12px;color:#6b6b6b;letter-spacing:0.351px;">Apr 8</span>
<span class="t" style="left:546.05px;top:707.84px;font-size:12px;color:#6b6b6b;letter-spacing:-0.111px;">Apr 14</span>
<span class="t" style="left:615.60px;top:707.84px;font-size:12px;color:#6b6b6b;letter-spacing:0.414px;">Apr 20</span>
<span class="t" style="left:685.95px;top:707.84px;font-size:12px;color:#6b6b6b;letter-spacing:0.406px;">Apr 26</span>
<span class="t" style="left:757.10px;top:707.84px;font-size:12px;color:#6b6b6b;letter-spacing:0.420px;transform:scaleX(1.0130);">May 2</span>
<span class="t" style="left:828.06px;top:707.84px;font-size:12px;color:#6b6b6b;letter-spacing:0.337px;">May 8</span>
<span class="t" style="left:895.76px;top:707.84px;font-size:12px;color:#6b6b6b;letter-spacing:-0.063px;">May 14</span>
<span class="t" style="left:978.61px;top:707.84px;font-size:12px;color:#6b6b6b;letter-spacing:-0.033px;">May 21</span>
<span class="t" style="left:1058.95px;top:707.84px;font-size:12px;color:#6b6b6b;letter-spacing:0.420px;transform:scaleX(1.0143);">May 28</span>
<span class="t" style="left:1135.46px;top:707.84px;font-size:12px;color:#6b6b6b;letter-spacing:0.405px;">Jun 3</span>
<span class="t" style="left:1206.11px;top:707.84px;font-size:12px;color:#6b6b6b;letter-spacing:0.420px;transform:scaleX(1.0033);">Jun 9</span>
<span class="t" style="left:1274.21px;top:707.84px;font-size:12px;color:#6b6b6b;letter-spacing:-0.191px;">Jun 15</span>
<span class="t" style="left:1344.46px;top:707.84px;font-size:12px;color:#6b6b6b;letter-spacing:0.041px;">Jun 21</span>
<span class="t" style="left:1422.46px;top:707.84px;font-size:12px;color:#6b6b6b;letter-spacing:0.420px;transform:scaleX(1.0189);">Jun 29</span>
<span class="t" style="left:321.29px;top:789.65px;font-size:14px;color:#0a0a0a;letter-spacing:0.385px;-webkit-text-stroke:0.30px #0a0a0a;">Test Cases</span>
<span class="t" style="left:411.47px;top:789.65px;font-size:14px;color:#0a0a0a;letter-spacing:0.490px;transform:scaleX(1.0082);-webkit-text-stroke:0.30px #0a0a0a;">Performance</span>
<span class="t" style="left:510.56px;top:790.32px;font-size:12.5px;color:#1a1a1a;-webkit-text-stroke:0.18px #1a1a1a;">3</span>
<span class="t" style="left:542.19px;top:789.65px;font-size:14px;color:#0a0a0a;letter-spacing:0.415px;-webkit-text-stroke:0.30px #0a0a0a;">Test Results</span>
<span class="t" style="left:634.88px;top:790.32px;font-size:12.5px;color:#1a1a1a;-webkit-text-stroke:0.18px #1a1a1a;">2</span>
<span class="t" style="left:667.80px;top:789.65px;font-size:14px;color:#0a0a0a;letter-spacing:0.398px;-webkit-text-stroke:0.30px #0a0a0a;">Voice Agents</span>
<span class="t" style="left:1172.41px;top:790.45px;font-size:14px;color:#0a0a0a;letter-spacing:0.489px;-webkit-text-stroke:0.30px #0a0a0a;">Customize Columns</span>
<span class="t" style="left:1380.30px;top:790.45px;font-size:14px;color:#0a0a0a;letter-spacing:0.304px;-webkit-text-stroke:0.30px #0a0a0a;">Add Test Case</span>
</div>
</body></html>
